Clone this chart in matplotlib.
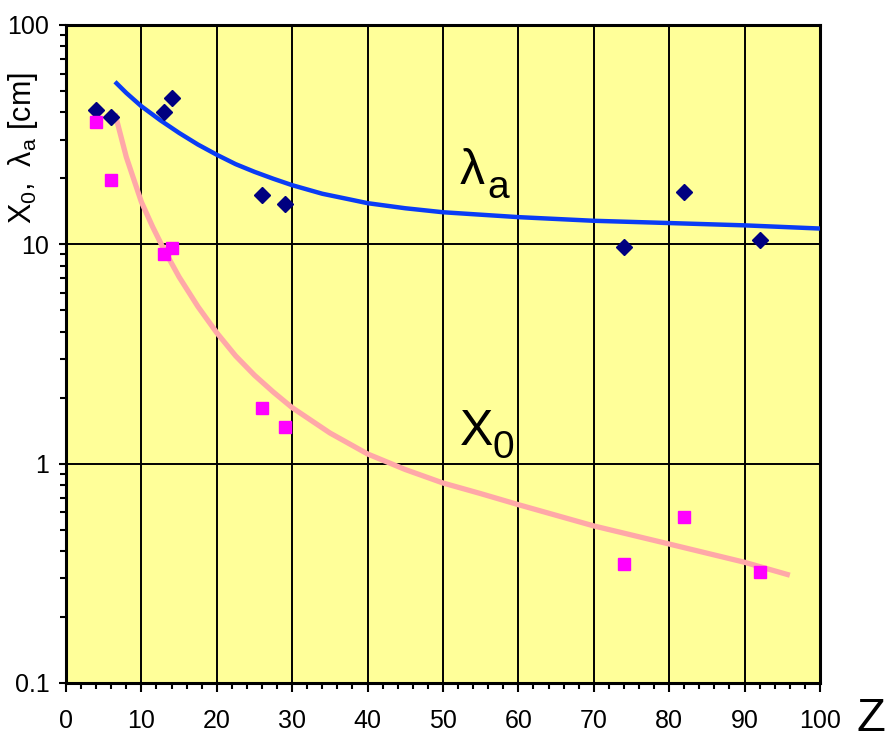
import numpy as np
import matplotlib.pyplot as plt
from matplotlib.ticker import MultipleLocator, LogLocator, NullFormatter, FixedLocator

# measured points (Z, cm)
z_pts = [4, 6, 13, 14, 26, 29, 74, 82, 92]
lam_pts = [40.9, 38.0, 40.0, 46.4, 16.8, 15.3, 9.7, 17.3, 10.5]
x0_pts = [36.1, 19.6, 9.0, 9.6, 1.8, 1.47, 0.35, 0.57, 0.32]

# fit curves
lam_z = [6.5, 8, 10, 12.5, 15, 17.5, 20, 22.5, 25, 27.5, 30, 34, 37.7, 40, 45, 50, 60, 70, 80, 90, 100]
lam_c = [55.1, 49.0, 42.6, 36.8, 32.2, 28.5, 25.6, 23.2, 21.4, 19.9, 18.6, 17.0, 16.0, 15.4, 14.6, 14.0, 13.3, 12.8, 12.5, 12.2, 11.8]
x0_z = [6.5, 8, 10, 11.5, 12.9, 15, 17.5, 20, 22.5, 25, 27.5, 30, 35, 40, 45, 50, 55, 60, 70, 80, 90, 96]
x0_c = [39.5, 25.0, 15.6, 12.0, 9.6, 7.1, 5.2, 3.95, 3.1, 2.53, 2.12, 1.8, 1.38, 1.107, 0.94, 0.816, 0.73, 0.65, 0.52, 0.43, 0.355, 0.31]

plt.rcParams['font.family'] = ['Liberation Sans', 'DejaVu Sans']
plt.rcParams['mathtext.fontset'] = 'custom'
plt.rcParams['mathtext.rm'] = 'Liberation Sans'

fig = plt.figure(figsize=(8.88, 7.43), dpi=100)
ax = fig.add_axes([0.0743, 0.0808, 0.8491, 0.8856])
ax.set_facecolor('#FFFF99')
ax.set_yscale('log')
ax.set_xlim(0, 100)
ax.set_ylim(0.1, 100)

ax.xaxis.set_major_locator(MultipleLocator(10))
ax.xaxis.set_minor_locator(MultipleLocator(2))
ax.yaxis.set_major_locator(FixedLocator([0.1, 1, 10, 100]))
ax.yaxis.set_minor_locator(LogLocator(base=10, subs=np.arange(2, 10)))
ax.yaxis.set_minor_formatter(NullFormatter())
ax.set_yticklabels(['0.1', '1', '10', '100'])

ax.grid(True, which='major', color='black', linewidth=1.4)
ax.set_axisbelow(True)
for s in ax.spines.values():
    s.set_linewidth(2.2)
ax.tick_params(axis='x', which='major', direction='out', length=6.5, width=1.5, labelsize=18, pad=12)
ax.tick_params(axis='x', which='minor', direction='out', length=4.5, width=1.5)
ax.tick_params(axis='y', which='major', direction='out', length=5, width=1.5, labelsize=18, pad=7)
ax.tick_params(axis='y', which='minor', direction='out', length=4, width=1.5)

ax.plot(lam_z, lam_c, color='#0A3CF5', linewidth=3.2, solid_capstyle='butt',
        solid_joinstyle='round', zorder=3)
ax.plot(x0_z, x0_c, color='#FFA8A8', linewidth=3.8, solid_capstyle='butt',
        solid_joinstyle='round', zorder=3)
ax.plot(z_pts, lam_pts, linestyle='none', marker='D', markersize=8.5,
        color='#000080', zorder=4)
ax.plot(z_pts, x0_pts, linestyle='none', marker='s', markersize=8,
        color='#FF00FF', zorder=4)

# curve labels
ax.annotate('λ', xy=(52.2, 18.8), fontsize=36, ha='left', va='baseline', zorder=5)
ax.annotate('a', xy=(52.2, 18.8), xytext=(20, -10), textcoords='offset points',
            fontsize=28, ha='left', va='baseline', zorder=5)
ax.annotate('X', xy=(52.2, 1.216), fontsize=36, ha='left', va='baseline', zorder=5)
ax.annotate('0', xy=(52.2, 1.216), xytext=(24, -9), textcoords='offset points',
            fontsize=28, ha='left', va='baseline', zorder=5)

ax.set_ylabel(r'$\mathregular{X_0,\ \lambda_a}$ [cm]', fontsize=22)
ax.yaxis.set_label_coords(-0.034, 0.813)
fig.text(0.997, 0.032, 'Z', fontsize=34, ha='right', va='center')

fig.savefig('out.png', dpi=100)
